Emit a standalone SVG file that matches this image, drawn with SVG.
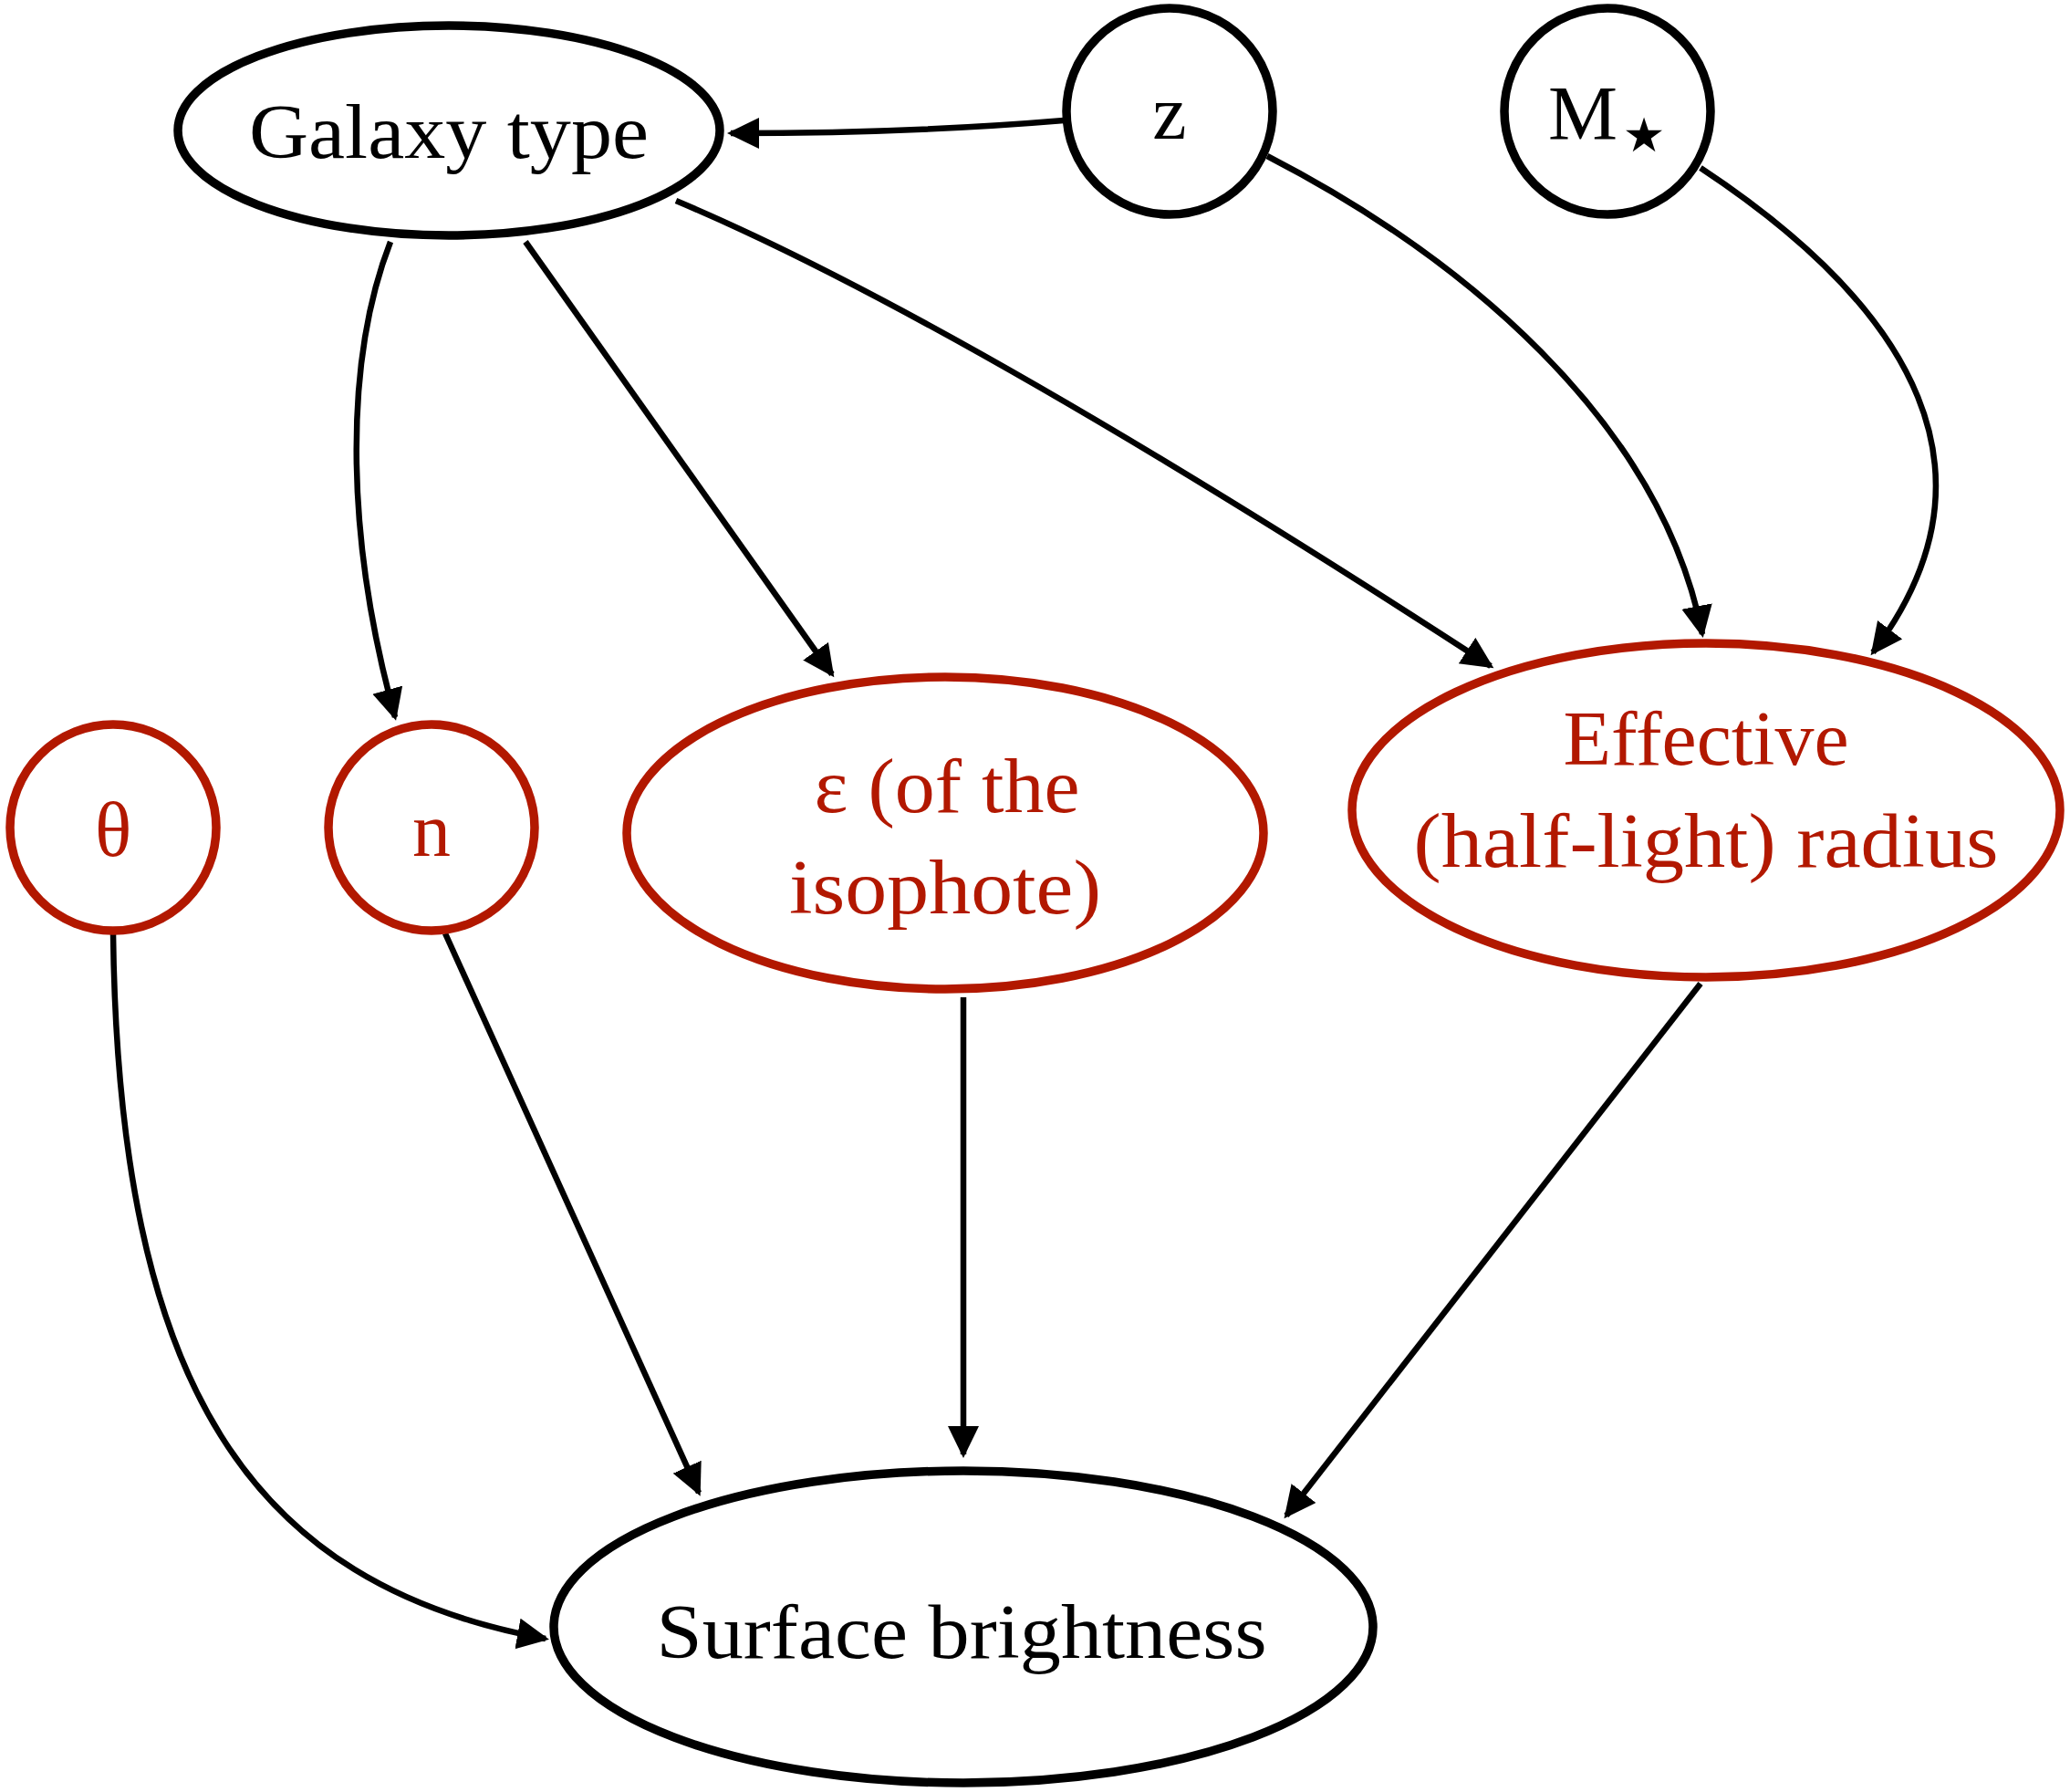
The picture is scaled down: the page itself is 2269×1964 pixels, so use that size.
<svg xmlns="http://www.w3.org/2000/svg" width="2269" height="1964" viewBox="0 0 2269 1964">
<defs>
<style>
.nb{fill:#fff;stroke:#000;stroke-width:9.5}
.nr{fill:#fff;stroke:#b21800;stroke-width:9.5}
.tb{font-family:"Liberation Serif","DejaVu Serif",serif;font-size:84px;fill:#000;text-anchor:middle}
.tr{font-family:"Liberation Serif","DejaVu Serif",serif;font-size:84px;fill:#b21800;text-anchor:middle}
.e{fill:none;stroke:#000;stroke-width:6.5;marker-end:url(#ah)}
</style>
<marker id="ah" markerUnits="userSpaceOnUse" markerWidth="38" markerHeight="36" refX="31" refY="17" orient="auto">
<path d="M0,0 L35,17 L0,34 Z" fill="#000"/>
</marker>
</defs>
<rect width="2269" height="1964" fill="#fff"/>
<g id="edges">
<path class="e" d="M1166,132 Q1000,146 801,146"/>
<path class="e" d="M428,265 C379,391 376,579 433,786"/>
<path class="e" d="M576,265 L912,739"/>
<path class="e" d="M741,220 Q1050,350 1634,730"/>
<path class="e" d="M1389,171 C1600,280 1820,460 1866,695"/>
<path class="e" d="M1864,184 C2100,340 2200,520 2053,715"/>
<path class="e" d="M124,1023 C130,1519 275,1737 598,1796"/>
<path class="e" d="M488,1023 L766,1636"/>
<path class="e" d="M1056,1093 L1056,1594"/>
<path class="e" d="M1864,1078 L1410,1661"/>
</g>
<g id="galaxy_type">
<ellipse class="nb" cx="492" cy="143" rx="297" ry="115"/>
<text class="tb" x="492" y="173" textLength="438" lengthAdjust="spacingAndGlyphs">Galaxy type</text>
</g>
<g id="z">
<circle class="nb" cx="1282" cy="122" r="113"/>
<text class="tb" x="1282" y="152">z</text>
</g>
<g id="mstar">
<circle class="nb" cx="1762" cy="122" r="113"/>
<text class="tb" x="1735" y="153" textLength="76" lengthAdjust="spacingAndGlyphs">M</text>
<text x="1802" y="166" font-family="'DejaVu Sans',sans-serif" font-size="52" text-anchor="middle" fill="#000">★</text>
</g>
<g id="theta">
<circle class="nr" cx="124" cy="907" r="113"/>
<text class="tr" x="124" y="938">θ</text>
</g>
<g id="n">
<circle class="nr" cx="473" cy="907" r="113"/>
<text class="tr" x="473" y="938">n</text>
</g>
<g id="epsilon">
<ellipse class="nr" cx="1036" cy="913" rx="349" ry="171"/>
<text class="tr" x="1038" y="890" textLength="291" lengthAdjust="spacingAndGlyphs">ε (of the</text>
<text class="tr" x="1036" y="1001" textLength="342" lengthAdjust="spacingAndGlyphs">isophote)</text>
</g>
<g id="effective_radius">
<ellipse class="nr" cx="1870" cy="888" rx="388" ry="183"/>
<text class="tr" x="1870" y="838" textLength="313" lengthAdjust="spacingAndGlyphs">Effective</text>
<text class="tr" x="1870" y="950" textLength="641" lengthAdjust="spacingAndGlyphs">(half-light) radius</text>
</g>
<g id="surface_brightness">
<ellipse class="nb" cx="1056" cy="1783" rx="449" ry="171"/>
<text class="tb" x="1054" y="1817" textLength="669" lengthAdjust="spacingAndGlyphs">Surface brightness</text>
</g>
</svg>
